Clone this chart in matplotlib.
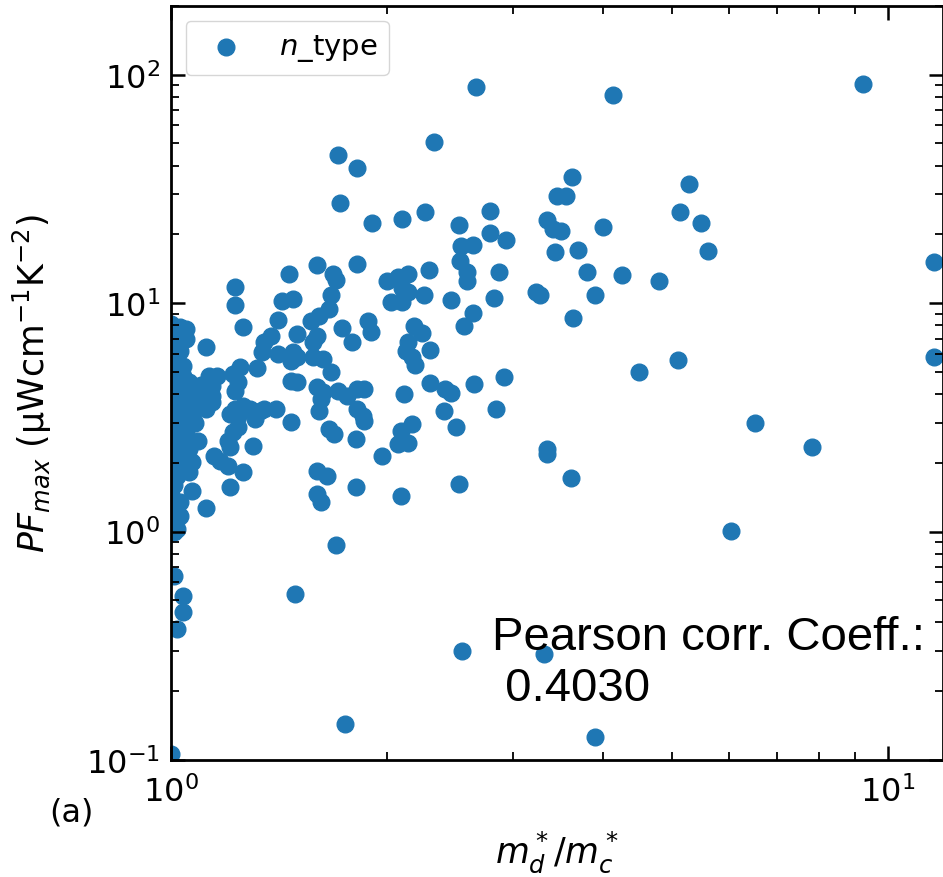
import matplotlib
matplotlib.use("Agg")
import matplotlib.pyplot as plt
from matplotlib.ticker import NullFormatter

# effective mass ratio md*/mc* and max power factor (uW cm^-1 K^-2), n-type
mass_ratio = [
    2.66, 4.14, 9.23, 2.33, 1.71, 1.82, 1.72, 1.91, 2.10, 2.26,
    2.52, 3.63, 3.45, 3.55, 2.79, 5.28, 5.12, 5.49, 3.34, 3.41,
    3.50, 4.01, 2.79, 2.93, 2.54, 2.64, 3.43, 3.70, 5.61, 2.87,
    3.80, 4.26, 4.79, 3.23, 3.27, 2.82, 3.90, 2.64, 2.56, 3.64,
    2.65, 2.91, 2.84, 4.50, 5.10, 6.53, 11.6, 11.6, 7.83, 3.35,
    3.35, 3.61, 6.04, 2.55, 3.31, 3.90, 2.52, 1.70, 1.49, 1.75,
    2.50,
    1.60, 1.82, 1.46, 1.68, 1.70, 1.23, 1.23, 1.43, 1.48, 1.67,
    1.66, 1.61, 1.57, 1.26, 1.41, 1.73, 1.88, 1.90, 2.53, 2.59,
    2.59, 2.29, 2.00, 2.07, 2.14, 2.10, 2.14, 2.03, 2.10, 2.25,
    2.46, 2.18, 2.24, 2.14, 2.13, 2.17, 2.19, 2.30, 1.86, 2.11,
    2.30, 2.41, 2.46, 2.40, 1.86, 2.17, 2.09, 2.07, 2.14, 1.97,
    2.09,
    1.12, 1.50, 1.60, 1.58, 1.79, 1.35, 1.38, 1.34, 1.41, 1.48,
    1.50, 1.47, 1.58, 1.63, 1.32, 1.25, 1.22, 1.24, 1.23, 1.13,
    1.16, 1.14, 1.14, 1.47, 1.50, 1.67, 1.60, 1.63, 1.71, 1.76,
    1.82, 1.62, 1.61, 1.82, 1.85, 1.23, 1.26, 1.29, 1.33, 1.35,
    1.40, 1.21, 1.24, 1.31, 1.47, 1.22, 1.24, 1.20, 1.21, 1.30,
    1.66, 1.69, 1.81, 1.15, 1.17, 1.20, 1.26, 1.21, 1.60, 1.65,
    1.81, 1.60, 1.62, 1.12, 1.07,
    1.05, 1.05, 1.04, 1.09, 1.12, 1.09, 1.07, 1.06, 1.03, 1.02,
    1.14, 1.03,
    1.00, 1.02, 1.01, 1.00, 1.03, 1.01, 1.00, 1.02, 1.04, 1.00,
    1.02, 1.06, 1.01, 1.04, 1.08, 1.00, 1.03, 1.07, 1.01, 1.05,
    1.00, 1.03, 1.00, 1.02, 1.04, 1.00, 1.02, 1.01, 1.00, 1.03,
    1.01, 1.00, 1.06, 1.09, 1.10, 1.08, 1.05, 1.06,
    1.01, 1.04, 1.04, 1.02, 1.00, 1.01,
]
pf_max = [
    88.7, 81.8, 91.4, 50.9, 44.3, 39.2, 27.5, 22.5, 23.4, 25.1,
    22.0, 35.7, 29.5, 29.5, 25.3, 33.3, 25.1, 22.5, 23.2, 21.1,
    20.7, 21.6, 20.3, 18.9, 17.8, 18.0, 16.8, 17.1, 16.9, 13.7,
    13.7, 13.3, 12.5, 11.2, 10.9, 10.5, 10.8, 9.08, 7.96, 8.63,
    4.43, 4.76, 3.45, 5.01, 5.65, 2.99, 15.2, 5.82, 2.35, 2.30,
    2.19, 1.72, 1.01, 0.301, 0.292, 0.126, 1.62, 0.875, 0.534, 0.144,
    2.87,
    14.7, 14.9, 13.4, 13.4, 12.6, 11.8, 9.84, 10.2, 10.4, 10.8,
    9.4, 8.81, 8.38, 7.88, 8.46, 7.80, 8.38, 7.50, 15.3, 13.7,
    12.5, 13.9, 12.5, 13.0, 13.4, 11.6, 11.2, 10.1, 10.1, 10.9,
    10.3, 7.96, 7.42, 6.77, 6.18, 5.82, 5.37, 6.25, 4.22, 4.01,
    4.48, 4.22, 4.05, 3.38, 3.05, 2.96, 2.76, 2.42, 2.45, 2.15,
    1.43,
    6.44, 7.34, 7.20, 6.77, 6.77, 6.77, 7.20, 6.12, 6.00, 6.12,
    5.82, 5.59, 5.82, 5.70, 5.21, 5.27, 4.91, 4.53, 4.13, 4.81,
    4.81, 4.35, 3.93, 4.57, 4.53, 5.01, 4.30, 4.09, 4.13, 3.93,
    4.22, 3.81, 3.38, 3.45, 3.21, 3.45, 3.55, 3.45, 3.38, 3.45,
    3.45, 3.28, 3.21, 3.12, 3.03, 2.73, 2.87, 2.50, 2.35, 2.37,
    2.82, 2.68, 2.55, 2.15, 2.04, 1.94, 1.83, 1.57, 1.85, 1.75,
    1.57, 1.46, 1.35, 1.27, 1.51,
    7.73, 6.98, 5.32, 4.09, 3.45, 2.50, 2.02, 1.83, 1.17, 1.03,
    3.70, 7.88,
    8.1, 7.6, 7.0, 6.5, 6.2, 5.9, 5.5, 5.1, 4.8, 4.6,
    4.3, 4.5, 4.0, 3.8, 3.9, 3.6, 3.4, 3.3, 3.1, 3.0,
    2.8, 2.6, 2.4, 2.2, 2.05, 1.95, 1.75, 1.6, 1.45, 1.35,
    1.25, 1.1, 4.2, 3.6, 4.4, 3.0, 2.7, 2.3,
    1.0, 0.523, 0.445, 0.375, 0.106, 0.64,
]
pearson = 0.4030

fig = plt.figure(figsize=(9.43, 8.78), dpi=100)
ax = fig.add_axes([0.1813, 0.1333, 0.8187, 0.8588])

ax.scatter(mass_ratio, pf_max, s=144, color="#1f77b4", label="$n$_type")
ax.set_xscale("log")
ax.set_yscale("log")
ax.set_xlim(1, 11.93)
ax.set_ylim(0.1, 200)

for side in ax.spines.values():
    side.set_linewidth(2)
ax.tick_params(which="both", direction="in", top=True, right=True)
ax.tick_params(which="major", length=10, width=1.8, labelsize=23)
ax.tick_params(which="minor", length=6, width=1.3)
ax.tick_params(axis="x", which="major", pad=11)
ax.tick_params(axis="y", which="major", pad=8)
ax.xaxis.set_minor_formatter(NullFormatter())
ax.yaxis.set_minor_formatter(NullFormatter())

ax.set_xlabel(r"$m_d^*/m_c^*$", fontsize=25)
ax.set_ylabel(r"$PF_{max}$ (μWcm$^{-1}$K$^{-2}$)", fontsize=25)
ax.xaxis.set_label_coords(0.5, -0.091)
ax.yaxis.set_label_coords(-0.152, 0.5)

ax.legend(loc="upper left", fontsize=21, scatterpoints=1)

ax.text(0.416, 0.192, f"Pearson corr. Coeff.:\n {pearson:.4f}",
        transform=ax.transAxes, fontsize=34, family="Liberation Sans",
        va="top", ha="left")

fig.text(0.076, 0.074, "(a)", fontsize=23, ha="center", va="center")

fig.savefig("out.png", dpi=100)
